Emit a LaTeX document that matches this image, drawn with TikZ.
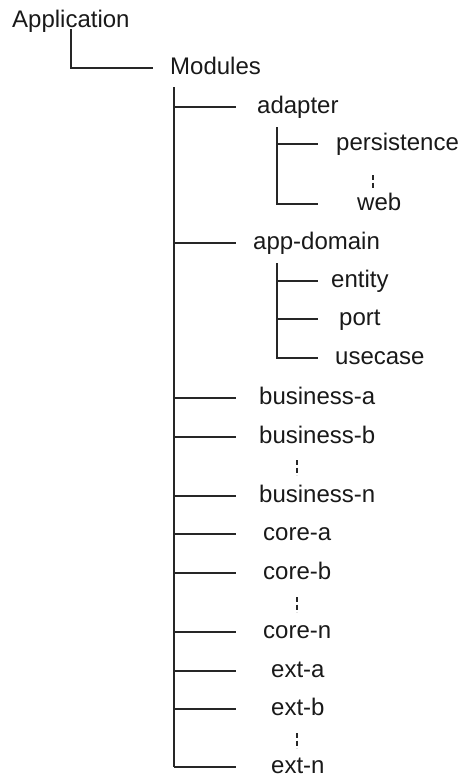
\documentclass[tikz,border=0pt]{standalone}
\usepackage{fontspec}
\setmainfont{Liberation Sans}
\begin{document}
\fontsize{24}{28}\selectfont
\begin{tikzpicture}[x=1pt,y=-1pt,
  lbl/.style={anchor=mid west,inner sep=0pt,font=\fontsize{24}{28}\selectfont,text=black!90},
  tree/.style={line width=1.5pt,draw=black!85},
  more/.style={line width=1.5pt,draw=black!85,dash pattern=on 5pt off 2.5pt}]
\useasboundingbox (0,0) rectangle (466,780);
% labels
\node[lbl,anchor=base west] (app) at (12,27) {Application};
\node[lbl] (mod) at (170,68) {Modules};
\node[lbl] (adapter) at (257,107) {adapter};
\node[lbl] (pers) at (336,144) {persistence};
\node[lbl] (web) at (357,204) {web};
\node[lbl] (dom) at (253,243) {app-domain};
\node[lbl] (ent) at (331,281) {entity};
\node[lbl] (port) at (339,319) {port};
\node[lbl] (use) at (335,358) {usecase};
\node[lbl] (ba) at (259,398) {business-a};
\node[lbl] (bb) at (259,437) {business-b};
\node[lbl] (bn) at (259,496) {business-n};
\node[lbl] (ca) at (263,534) {core-a};
\node[lbl] (cb) at (263,573) {core-b};
\node[lbl] (cn) at (263,632) {core-n};
\node[lbl] (ea) at (271,671) {ext-a};
\node[lbl] (eb) at (271,709) {ext-b};
\node[lbl] (en) at (271,767) {ext-n};
% tree coordinates
\coordinate (A) at (71,29);
\coordinate (Aend) at (153,0);
\coordinate (T) at (174,87);
\coordinate (Tend) at (236,0);
\coordinate (S1) at (277,127);
\coordinate (S2) at (277,263);
\coordinate (Send) at (318,0);
% Application -> Modules
\draw[tree] (A) |- (Aend |- mod.mid);
% main trunk
\draw[tree] (T) -- (T |- en.mid);
\foreach \n in {adapter,dom,ba,bb,bn,ca,cb,cn,ea,eb,en}
  \draw[tree] (T |- \n.mid) -- (Tend |- \n.mid);
% adapter subtree
\draw[tree] (S1) -- (S1 |- web.mid) -- (Send |- web.mid);
\draw[tree] (S1 |- pers.mid) -- (Send |- pers.mid);
% app-domain subtree
\draw[tree] (S2) -- (S2 |- use.mid) -- (Send |- use.mid);
\foreach \n in {ent,port}
  \draw[tree] (S2 |- \n.mid) -- (Send |- \n.mid);
% continuation marks
\coordinate (d1a) at (373,175); \coordinate (d1b) at (373,188);
\coordinate (d2a) at (297,460); \coordinate (d2b) at (297,475);
\coordinate (d3a) at (297,597); \coordinate (d3b) at (297,612);
\coordinate (d4a) at (297,733); \coordinate (d4b) at (297,748);
\draw[more] (d1a) -- (d1b);
\draw[more] (d2a) -- (d2b);
\draw[more] (d3a) -- (d3b);
\draw[more] (d4a) -- (d4b);
\end{tikzpicture}
\end{document}
